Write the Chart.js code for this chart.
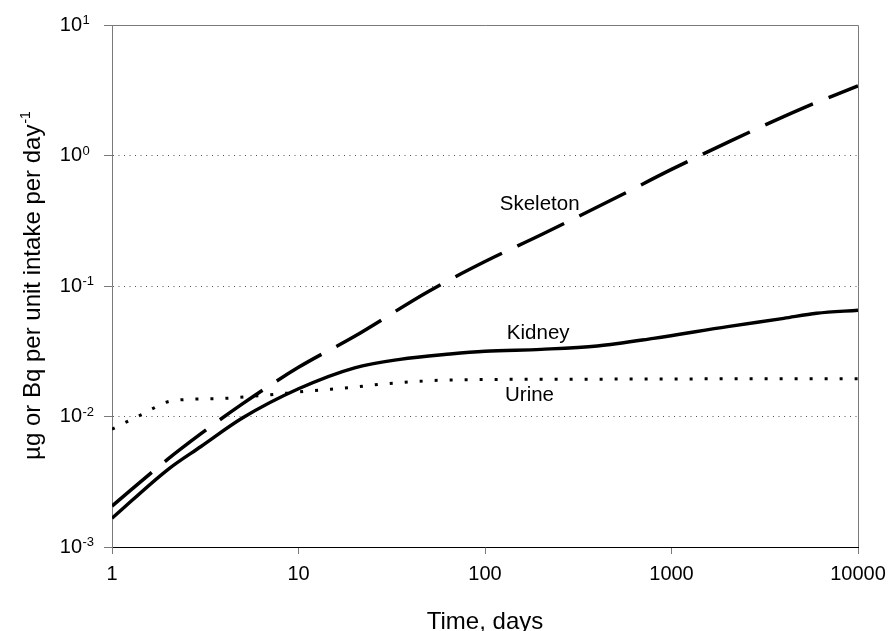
<!DOCTYPE html>
<html>
<head>
  <title>Retention after intake</title>
  <script src="https://cdn.jsdelivr.net/npm/chart.js"></script>
  <style>
    body { margin: 0; background: #fff; }
  </style>
</head>
<body>
<canvas id="retentionChart" width="889" height="631"></canvas>

<script>
  // Amount retained per unit intake per day, read at these days after intake
  const skeletonDays = [1, 2, 3, 5, 10, 20, 50, 100, 200, 500, 1000, 2000, 5000, 10000];
  const skeletonValues = [0.00206, 0.00473, 0.00738, 0.0125, 0.0238, 0.0412, 0.0912, 0.154, 0.247, 0.472, 0.782, 1.26, 2.29, 3.41];

  const kidneyDays = [1, 2, 3, 5, 10, 20, 35, 65, 100, 200, 400, 800, 2000, 4000, 6000, 10000];
  const kidneyValues = [0.00166, 0.00394, 0.00589, 0.00973, 0.0163, 0.0236, 0.0274, 0.0301, 0.0316, 0.0327, 0.0347, 0.0397, 0.0488, 0.0565, 0.0618, 0.0652];

  const urineDays = [1, 1.45, 2.1, 3.7, 6.4, 11, 20, 28, 70, 300, 1000, 10000];
  const urineValues = [0.0080, 0.0104, 0.0132, 0.0137, 0.0145, 0.0156, 0.0168, 0.0177, 0.0191, 0.0193, 0.0194, 0.0195];

  const seriesNames = ['Skeleton', 'Kidney', 'Urine'];

  // axis ticks
  const xTickValues = [1, 10, 100, 1000, 10000];
  const xTickLabels = ['1', '10', '100', '1000', '10000'];
  const yTickValues = [0.001, 0.01, 0.1, 1, 10];
  const yTickExponents = ['-3', '-2', '-1', '0', '1'];

  const xTitle = 'Time, days';
  const yTitle = 'µg or Bq per unit intake per day';
  const yTitleExponent = '-1';

  // where each curve name sits, in data units (day, value at text baseline)
  const labelAnchors = [[120, 0.382], [131, 0.0391], [128, 0.0132]];

  const family = "Arial, 'Liberation Sans', sans-serif";

  function points(days, values) {
    return days.map((d, i) => ({ x: d, y: values[i] }));
  }

  // draws the frame, the power-of-ten labels, axis titles and curve names
  const annotate = {
    id: 'annotate',
    afterDraw(chart) {
      const { ctx, chartArea: a, scales: { x, y } } = chart;
      ctx.save();

      // top and right sides of the plot box
      ctx.lineWidth = 1;
      ctx.strokeStyle = '#7a7a7a';
      ctx.beginPath();
      ctx.moveTo(a.left, a.top + 0.5);
      ctx.lineTo(a.right + 0.5, a.top + 0.5);
      ctx.lineTo(a.right + 0.5, a.bottom);
      ctx.stroke();

      ctx.fillStyle = '#000';

      // y tick labels as 10 with a raised exponent
      yTickValues.forEach((v, i) => {
        const py = y.getPixelForValue(v);
        ctx.font = '20px ' + family;
        ctx.textAlign = 'right';
        ctx.textBaseline = 'middle';
        ctx.fillText('10', a.left - 30, py);
        ctx.font = '13px ' + family;
        ctx.textAlign = 'left';
        ctx.textBaseline = 'alphabetic';
        ctx.fillText(yTickExponents[i], a.left - 29.5, py - 1);
      });

      // x axis title
      ctx.font = '24px ' + family;
      ctx.textAlign = 'center';
      ctx.textBaseline = 'alphabetic';
      ctx.fillText(xTitle, (a.left + a.right) / 2, 629);

      // y axis title, rotated, with the day^-1 exponent
      ctx.save();
      ctx.translate(39.5, (a.top + a.bottom) / 2);
      ctx.rotate(-Math.PI / 2);
      ctx.font = '24px ' + family;
      const w1 = ctx.measureText(yTitle).width;
      ctx.font = '14px ' + family;
      const w2 = ctx.measureText(yTitleExponent).width;
      let start = -(w1 + w2) / 2;
      ctx.textAlign = 'left';
      ctx.font = '24px ' + family;
      ctx.fillText(yTitle, start, 0);
      ctx.font = '14px ' + family;
      ctx.fillText(yTitleExponent, start + w1 + 1, -10);
      ctx.restore();

      // curve names
      ctx.font = '20.5px ' + family;
      ctx.textAlign = 'left';
      seriesNames.forEach((name, i) => {
        const [d, v] = labelAnchors[i];
        ctx.fillText(name, x.getPixelForValue(d), y.getPixelForValue(v));
      });

      ctx.restore();
    }
  };

  const config = {
    type: 'line',
    data: {
      datasets: [
        {
          label: seriesNames[0],
          data: points(skeletonDays, skeletonValues),
          borderColor: '#000',
          borderWidth: 3.5,
          borderDash: [52, 17],
          pointRadius: 0,
          cubicInterpolationMode: 'monotone'
        },
        {
          label: seriesNames[1],
          data: points(kidneyDays, kidneyValues),
          borderColor: '#000',
          borderWidth: 3.4,
          pointRadius: 0,
          cubicInterpolationMode: 'monotone'
        },
        {
          label: seriesNames[2],
          data: points(urineDays, urineValues),
          borderColor: '#000',
          borderWidth: 3,
          borderDash: [3, 12],
          pointRadius: 0,
          cubicInterpolationMode: 'monotone'
        }
      ]
    },
    options: {
      responsive: false,
      animation: false,
      events: [],
      layout: { padding: { top: 25, right: 31, left: 0, bottom: 0 } },
      plugins: {
        legend: { display: false },
        tooltip: { enabled: false }
      },
      scales: {
        x: {
          type: 'logarithmic',
          min: 1,
          max: 10000,
          afterBuildTicks: scale => { scale.ticks = xTickValues.map(v => ({ value: v })); },
          afterFit: scale => {
            scale.height = 84;
            // end labels may hang past the plot edges
            scale.paddingLeft = 0;
            scale.paddingRight = 0;
          },
          ticks: {
            autoSkip: false,
            maxRotation: 0,
            padding: 8,
            color: '#000',
            font: { family: family, size: 20 },
            callback: (v, i) => xTickLabels[i]
          },
          grid: {
            drawOnChartArea: false,
            tickLength: 7,
            tickColor: '#7a7a7a'
          },
          border: { color: '#000', width: 1 }
        },
        y: {
          type: 'logarithmic',
          min: 0.001,
          max: 10,
          afterBuildTicks: scale => { scale.ticks = yTickValues.map(v => ({ value: v })); },
          afterFit: scale => { scale.width = 112; },
          ticks: { display: false },
          grid: {
            tickLength: 8,
            tickColor: '#7a7a7a',
            lineWidth: 1,
            color: ctx => (ctx.tick && (ctx.tick.value === 0.01 || ctx.tick.value === 0.1 || ctx.tick.value === 1)) ? '#555' : 'transparent'
          },
          border: { color: '#7a7a7a', width: 1, dash: [1, 4.5] }
        }
      }
    },
    plugins: [annotate]
  };

  new Chart(document.getElementById('retentionChart'), config);
</script>
</body>
</html>
